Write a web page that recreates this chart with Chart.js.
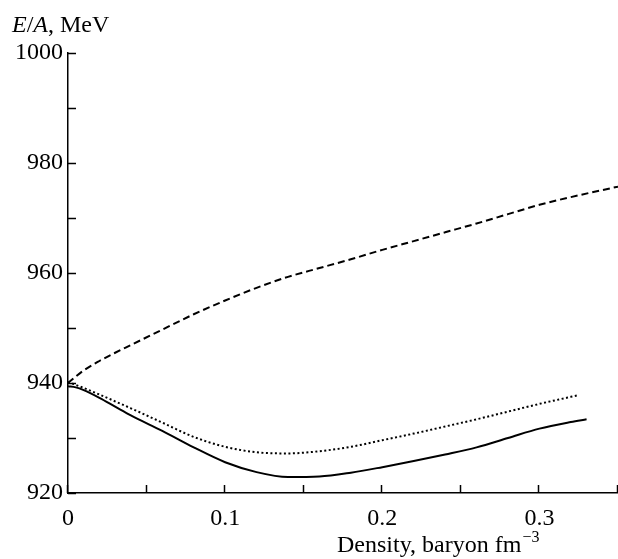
<!DOCTYPE html>
<html>
<head>
<meta charset="utf-8">
<script src="https://cdn.jsdelivr.net/npm/chart.js@4"></script>
<style>
  body { margin: 0; background: #fff; }
  #wrap { width: 618px; height: 559px; position: relative; }
</style>
</head>
<body>
<div id="wrap"><canvas id="ea-chart"></canvas></div>
<script>
// E/A vs density, three curves
const dashedX = [0, 0.005, 0.01, 0.02, 0.03, 0.04, 0.06, 0.08, 0.10, 0.12, 0.14, 0.16, 0.18, 0.20, 0.22, 0.24, 0.26, 0.28, 0.30, 0.32, 0.35];
const dashedY = [940.0, 941.2, 942.3, 944.0, 945.5, 946.9, 949.7, 952.5, 955.0, 957.3, 959.3, 960.9, 962.5, 964.2, 965.8, 967.4, 969.0, 970.7, 972.4, 973.8, 975.7];

const solidX = [0, 0.005, 0.01, 0.02, 0.03, 0.04, 0.06, 0.08, 0.10, 0.12, 0.14, 0.16, 0.18, 0.20, 0.22, 0.24, 0.26, 0.28, 0.30, 0.32, 0.33];
const solidY = [939.4, 939.2, 938.7, 937.3, 935.7, 934.1, 931.3, 928.3, 925.6, 923.8, 922.9, 923.0, 923.7, 924.7, 925.8, 927.0, 928.3, 930.0, 931.7, 932.9, 933.4];

const dottedX = [0, 0.01, 0.02, 0.04, 0.06, 0.08, 0.10, 0.12, 0.14, 0.16, 0.18, 0.20, 0.22, 0.24, 0.26, 0.28, 0.30, 0.325];
const dottedY = [940.2, 939.1, 937.9, 935.4, 932.8, 930.2, 928.4, 927.4, 927.2, 927.6, 928.4, 929.6, 930.8, 932.1, 933.4, 934.8, 936.2, 937.8];

const xMin = 0, xMax = 0.35, xStep = 0.05;
const yMin = 920, yMax = 1000, yStep = 10;

const serif = '"Liberation Serif", "Times New Roman", serif';

function pts(xs, ys) {
    return xs.map((x, i) => ({ x: x, y: ys[i] }));
}

// inward tick marks + the two axis captions
const extras = {
    id: 'extras',
    afterDraw(chart) {
        const c = chart.ctx;
        const xs = chart.scales.x, ys = chart.scales.y;
        const a = chart.chartArea;
        c.save();
        c.strokeStyle = '#000';
        c.lineWidth = 1.5;
        c.beginPath();
        ys.ticks.forEach(t => {
            const py = Math.round(ys.getPixelForValue(t.value)) + 0.5;
            c.moveTo(a.left, py);
            c.lineTo(a.left + 8, py);
        });
        xs.ticks.forEach(t => {
            const px = Math.round(xs.getPixelForValue(t.value)) - 0.5;
            c.moveTo(px, a.bottom);
            c.lineTo(px, a.bottom - 8);
        });
        c.stroke();

        c.fillStyle = '#000';
        c.textBaseline = 'alphabetic';
        c.textAlign = 'left';
        // y caption
        c.font = 'italic 24px ' + serif;
        let x = 12;
        c.fillText('E', x, 32); x += c.measureText('E').width;
        c.font = '24px ' + serif;
        c.fillText('/', x, 32); x += c.measureText('/').width;
        c.font = 'italic 24px ' + serif;
        c.fillText('A', x, 32); x += c.measureText('A').width;
        c.font = '24px ' + serif;
        c.fillText(', MeV', x, 32);

        // x caption
        x = 337;
        c.fillText('Density, baryon fm', x, 552);
        x += c.measureText('Density, baryon fm').width + 1;
        c.font = '16px ' + serif;
        c.fillText('\u22123', x, 542);
        c.restore();
    }
};

new Chart(document.getElementById('ea-chart').getContext('2d'), {
    type: 'line',
    data: {
        datasets: [
            {
                data: pts(dashedX, dashedY),
                borderColor: '#000',
                borderWidth: 2,
                borderDash: [7, 4],
                pointRadius: 0,
                cubicInterpolationMode: 'monotone'
            },
            {
                data: pts(dottedX, dottedY),
                borderColor: '#000',
                borderWidth: 2,
                borderDash: [2, 2.5],
                pointRadius: 0,
                cubicInterpolationMode: 'monotone'
            },
            {
                data: pts(solidX, solidY),
                borderColor: '#000',
                borderWidth: 2,
                pointRadius: 0,
                cubicInterpolationMode: 'monotone'
            }
        ]
    },
    options: {
        responsive: true,
        maintainAspectRatio: false,
        animation: false,
        layout: { padding: { top: 53, right: 0, left: 0, bottom: 0 } },
        plugins: {
            legend: { display: false },
            tooltip: { enabled: false }
        },
        scales: {
            x: {
                type: 'linear',
                min: xMin,
                max: xMax,
                grid: { drawOnChartArea: false, drawTicks: false },
                border: { display: true, color: '#000', width: 1.5 },
                ticks: {
                    stepSize: xStep,
                    padding: 11,
                    maxRotation: 0,
                    autoSkip: false,
                    color: '#000',
                    font: { family: serif, size: 24 },
                    callback: v => {
                        const k = Math.round(v * 100);
                        if (k % 10 !== 0) return '';
                        return k === 0 ? '0' : (k / 100).toFixed(1);
                    }
                },
                afterFit: s => { s.height = 66; s.paddingRight = 0; s.paddingLeft = 0; }
            },
            y: {
                type: 'linear',
                min: yMin,
                max: yMax,
                grid: { drawOnChartArea: false, drawTicks: false },
                border: { display: true, color: '#000', width: 1.5 },
                ticks: {
                    stepSize: yStep,
                    padding: 5,
                    autoSkip: false,
                    color: '#000',
                    font: { family: serif, size: 24 },
                    callback: v => (Math.round(v) % 20 === 0 ? String(Math.round(v)) : '')
                },
                afterFit: s => { s.width = 68; }
            }
        }
    },
    plugins: [extras]
});
</script>
</body>
</html>
